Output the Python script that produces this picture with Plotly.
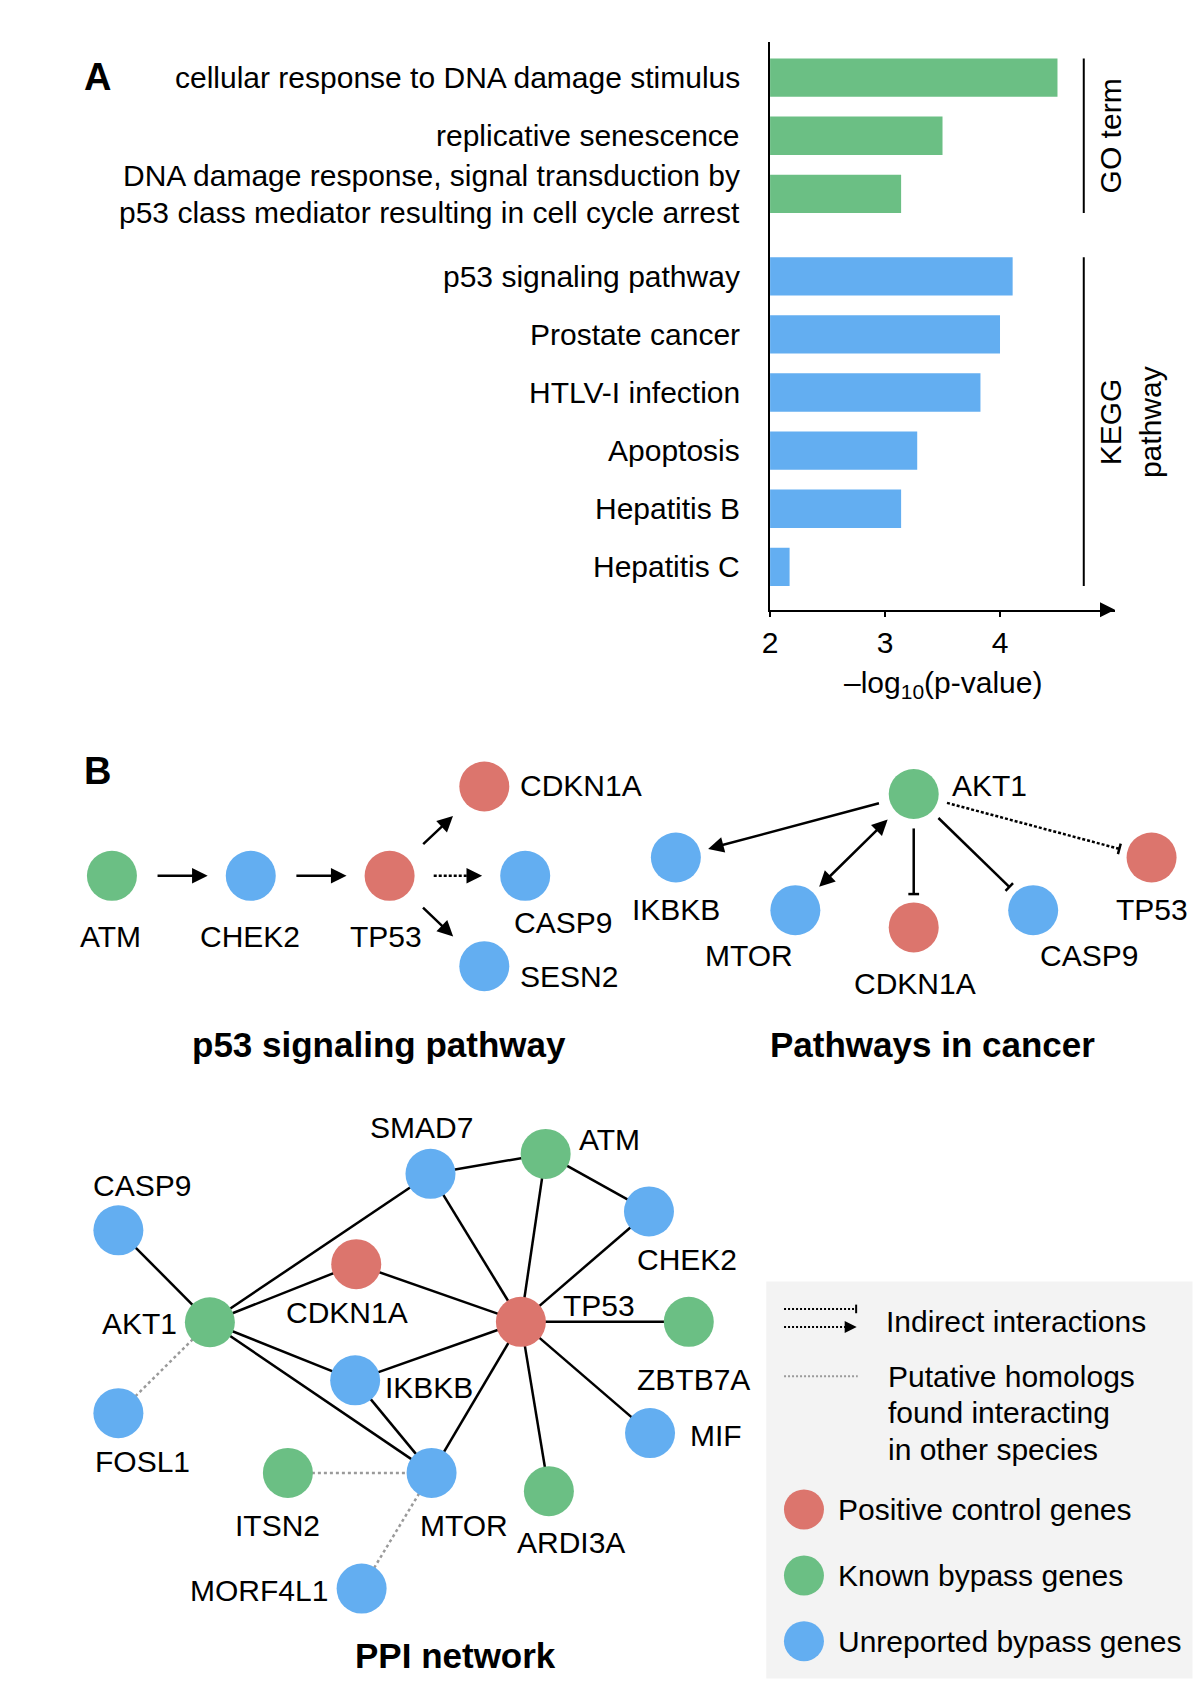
import plotly.graph_objects as go

# ---------------- Panel A data ----------------
GO_TERMS = [
    "cellular response to DNA damage stimulus",
    "replicative senescence",
    "DNA damage response, signal transduction by\np53 class mediator resulting in cell cycle arrest",
]
GO_LOGP = [4.50, 3.50, 3.14]
KEGG_TERMS = ["p53 signaling pathway", "Prostate cancer", "HTLV-I infection",
              "Apoptosis", "Hepatitis B", "Hepatitis C"]
KEGG_LOGP = [4.11, 4.00, 3.83, 3.28, 3.14, 2.17]
X_TICKS = [2, 3, 4]
X_MIN, X_MAX = 2, 5
GO_GROUP_LABEL = ["GO term"]
KEGG_GROUP_LABEL = ["KEGG", "pathway"]
X_TITLE = "–log<sub>10</sub>(p-value)"

# ---------------- Panel B data (diagram layout, canvas units) ----------------
P53_NODES = {
    "ATM": (104, 814, "known"), "CHEK2": (233, 814, "unrep"), "TP53": (362, 814, "pos"),
    "CDKN1A": (450, 731, "pos"), "CASP9": (488, 814, "unrep"), "SESN2": (450, 898, "unrep"),
}
P53_EDGES = [("ATM", "CHEK2", "activate"), ("CHEK2", "TP53", "activate"),
             ("TP53", "CDKN1A", "activate"), ("TP53", "CASP9", "indirect_activate"),
             ("TP53", "SESN2", "activate")]
P53_LABELS = [("ATM", 103, 870, "center"), ("CHEK2", 232, 870, "center"),
              ("TP53", 359, 870, "center"), ("CDKN1A", 484, 730, "left"),
              ("CASP9", 523, 857, "center"), ("SESN2", 484, 908, "left")]

CANCER_NODES = {
    "AKT1": (849, 738, "known"), "IKBKB": (628, 797, "unrep"), "MTOR": (739, 846, "unrep"),
    "CDKN1A": (849, 862, "pos"), "CASP9": (960, 846, "unrep"), "TP53": (1070, 797, "pos"),
}
CANCER_EDGES = [("AKT1", "IKBKB", "activate"), ("AKT1", "MTOR", "both"),
                ("AKT1", "CDKN1A", "inhibit"), ("AKT1", "CASP9", "inhibit"),
                ("AKT1", "TP53", "indirect_inhibit")]
CANCER_LABELS = [("AKT1", 886, 730, "left"), ("IKBKB", 628, 845, "center"),
                 ("MTOR", 696, 888, "center"), ("CDKN1A", 850, 914, "center"),
                 ("CASP9", 1012, 888, "center"), ("TP53", 1070, 845, "center")]

PPI_NODES = {
    "CASP9": (110, 1143.5, "unrep"), "AKT1": (195, 1229, "known"), "FOSL1": (110, 1313.5, "unrep"),
    "SMAD7": (400, 1091, "unrep"), "ATM": (507, 1072.5, "known"), "CHEK2": (603, 1126, "unrep"),
    "CDKN1A": (331, 1175, "pos"), "TP53": (484, 1228.6, "pos"), "ZBTB7A": (640, 1228.6, "known"),
    "IKBKB": (330, 1283, "unrep"), "MIF": (604, 1332, "unrep"), "ITSN2": (267.5, 1369, "known"),
    "MTOR": (401, 1369, "unrep"), "ARDI3A": (510, 1386, "known"), "MORF4L1": (336, 1476.5, "unrep"),
}
PPI_EDGES = [("CASP9", "AKT1"), ("AKT1", "SMAD7"), ("AKT1", "CDKN1A"), ("AKT1", "IKBKB"),
             ("AKT1", "MTOR"), ("SMAD7", "ATM"), ("SMAD7", "TP53"), ("ATM", "TP53"),
             ("ATM", "CHEK2"), ("CHEK2", "TP53"), ("CDKN1A", "TP53"), ("TP53", "ZBTB7A"),
             ("TP53", "IKBKB"), ("TP53", "MIF"), ("TP53", "MTOR"), ("TP53", "ARDI3A"),
             ("IKBKB", "MTOR")]
PPI_HOMOLOG_EDGES = [("AKT1", "FOSL1"), ("ITSN2", "MTOR"), ("MTOR", "MORF4L1")]
PPI_LABELS = [("CASP9", 132, 1102, "center"), ("AKT1", 163, 1230, "right"),
              ("FOSL1", 132, 1358, "center"), ("SMAD7", 392, 1048, "center"),
              ("ATM", 566, 1059, "center"), ("CHEK2", 638, 1171, "center"),
              ("CDKN1A", 322, 1220, "center"), ("TP53", 557, 1213, "center"),
              ("ZBTB7A", 644, 1282, "center"), ("IKBKB", 359, 1290, "left"),
              ("MIF", 665, 1334, "center"), ("ITSN2", 258, 1418, "center"),
              ("MTOR", 431, 1418, "center"), ("ARDI3A", 531, 1434, "center"),
              ("MORF4L1", 304, 1478, "right")]

LEGEND_GROUPS = [("pos", "Positive control genes"), ("known", "Known bypass genes"),
                 ("unrep", "Unreported bypass genes")]
LEGEND_LINES = [["Indirect interactions"],
                ["Putative homologs", "found interacting", "in other species"]]
TITLES = [("p53 signaling pathway", 352, 971), ("Pathways in cancer", 866, 971),
          ("PPI network", 423, 1539)]

# ---------------- style ----------------
W, H = 1200, 1687
CW, CH = 1115, 1568          # canvas units of the diagram layer
FONT = "Liberation Sans, Arial, Helvetica, sans-serif"
FS = 30
COL = {"pos": "#DC756D", "known": "#6BBF84", "unrep": "#63AEF1"}
DOT = "3px,2px"
GRAY = "#9A9A9A"
LW = 2.5
PAD = 3   # annotation box inner padding

fig = go.Figure()

# ================= Panel A: bar chart =================
GAP = 0.42
BAR_W = 0.66
go_pos = list(range(len(GO_TERMS)))
kegg_pos = [len(GO_TERMS) + GAP + j for j in range(len(KEGG_TERMS))]

for pos, vals, color in [(go_pos, GO_LOGP, COL["known"]), (kegg_pos, KEGG_LOGP, COL["unrep"])]:
    fig.add_trace(go.Bar(y=pos, x=[v - X_MIN for v in vals], base=X_MIN, orientation="h",
                         width=BAR_W, marker=dict(color=color, line=dict(width=0)),
                         xaxis="x", yaxis="y", showlegend=False, hoverinfo="skip"))

LINE_STEP = 0.63
for terms, pos in [(GO_TERMS, go_pos), (KEGG_TERMS, kegg_pos)]:
    for t, p in zip(terms, pos):
        lines = t.split("\n")
        n = len(lines)
        for k, ln in enumerate(lines):
            fig.add_annotation(x=(686 + PAD) / CW, xref="paper", y=p + (k - (n - 1) / 2) * LINE_STEP,
                               yref="y", text=ln, showarrow=False, xanchor="right", yanchor="middle",
                               font=dict(family=FONT, size=FS, color="black"))

# group brackets + labels
for pos, labels in [(go_pos, GO_GROUP_LABEL), (kegg_pos, KEGG_GROUP_LABEL)]:
    fig.add_shape(type="line", xref="paper", yref="y", x0=1007 / CW, x1=1007 / CW,
                  y0=pos[0] - BAR_W / 2, y1=pos[-1] + BAR_W / 2, line=dict(color="black", width=2))
    for k, lab in enumerate(labels):
        fig.add_annotation(x=(1032 + 37 * k) / CW, xref="paper", y=(pos[0] + pos[-1]) / 2, yref="y",
                           text=lab, textangle=-90, showarrow=False, xanchor="center", yanchor="middle",
                           font=dict(family=FONT, size=FS, color="black"))

# axis arrow
fig.add_annotation(x=1, xref="x domain", y=0, yref="y domain", ax=-16, ay=0, text="",
                   showarrow=True, arrowhead=2, arrowsize=1.5, arrowwidth=2, arrowcolor="black")
fig.add_annotation(x=0.5, xref="x domain", y=1 - 636.5 / CH, yref="paper", text=X_TITLE,
                   showarrow=False, xanchor="center", yanchor="middle",
                   font=dict(family=FONT, size=FS, color="black"))

# ================= Panel B: diagrams =================
def unit(a, b):
    dx, dy = b[0] - a[0], b[1] - a[1]
    L = (dx * dx + dy * dy) ** 0.5
    return dx / L, dy / L


def add_line(p0, p1, color="black", width=LW, dash="solid"):
    fig.add_trace(go.Scatter(x=[p0[0], p1[0]], y=[p0[1], p1[1]], mode="lines",
                             line=dict(color=color, width=width, dash=dash),
                             xaxis="x2", yaxis="y2", hoverinfo="skip", showlegend=False))


def add_head(tail, tip, both=False, width=LW, size=1.25):
    fig.add_annotation(x=tip[0], y=tip[1], ax=tail[0], ay=tail[1], xref="x2", yref="y2",
                       axref="x2", ayref="y2", text="", showarrow=True, arrowhead=2,
                       arrowsize=size, arrowwidth=width, arrowcolor="black",
                       arrowside="end+start" if both else "end",
                       startarrowhead=2, startarrowsize=size, standoff=0, startstandoff=0)


def add_tbar(tip, d, half=5, width=LW):
    nx, ny = -d[1], d[0]
    add_line((tip[0] + nx * half, tip[1] + ny * half), (tip[0] - nx * half, tip[1] - ny * half),
             width=width)


def draw_directed(nodes, edges, off0, off1):
    for a, b, kind in edges:
        pa, pb = nodes[a][:2], nodes[b][:2]
        d = unit(pa, pb)
        p0 = (pa[0] + d[0] * off0, pa[1] + d[1] * off0)
        p1 = (pb[0] - d[0] * off1, pb[1] - d[1] * off1)
        if kind == "activate":
            add_head(p0, p1)
        elif kind == "both":
            add_head(p0, p1, both=True)
        elif kind == "inhibit":
            add_line(p0, p1)
            add_tbar(p1, d)
        elif kind == "indirect_activate":
            q = (p1[0] - d[0] * 10, p1[1] - d[1] * 10)
            add_line(p0, q, dash=DOT)
            add_head(q, p1)
        elif kind == "indirect_inhibit":
            add_line(p0, p1, dash=DOT)
            add_tbar(p1, d)


def draw_nodes(nodes, size=50):
    names = list(nodes)
    fig.add_trace(go.Scatter(x=[nodes[n][0] for n in names], y=[nodes[n][1] for n in names],
                             mode="markers", marker=dict(size=size, color=[COL[nodes[n][2]] for n in names],
                                                         line=dict(width=0)),
                             xaxis="x2", yaxis="y2", hoverinfo="skip", showlegend=False))


def add_text(text, x, y, anchor="center", size=FS):
    if anchor == "left":
        x -= PAD
    elif anchor == "right":
        x += PAD
    fig.add_annotation(x=x, y=y, xref="x2", yref="y2", text=text, showarrow=False,
                       xanchor=anchor, yanchor="middle",
                       font=dict(family=FONT, size=size, color="black"))


draw_directed(P53_NODES, P53_EDGES, 41, 40)
draw_directed(CANCER_NODES, CANCER_EDGES, 32, 31)

for a, b in PPI_EDGES:
    add_line(PPI_NODES[a][:2], PPI_NODES[b][:2])
for a, b in PPI_HOMOLOG_EDGES:
    add_line(PPI_NODES[a][:2], PPI_NODES[b][:2], color=GRAY, width=2.5, dash="3px,3px")

for nodes in (P53_NODES, CANCER_NODES, PPI_NODES):
    draw_nodes(nodes)
for labels in (P53_LABELS, CANCER_LABELS, PPI_LABELS):
    for text, x, y, anchor in labels:
        add_text(text, x, y, anchor)

for text, x, y in TITLES:
    add_text("<b>%s</b>" % text, x, y, size=35)

for letter, x, y in [("A", 90.5, 72), ("B", 90.6, 717)]:
    add_text("<b>%s</b>" % letter, x, y, size=38)

# ---------------- legend box ----------------
fig.add_shape(type="rect", xref="x2", yref="y2", x0=712, x1=1108, y0=1191, y1=1560,
              fillcolor="#F3F3F3", line=dict(width=0), layer="below")
add_line((728.5, 1216.6), (795.5, 1216.6), width=2, dash="2px,2px")
add_tbar((795.5, 1216.6), (1, 0), half=4, width=2)
add_line((728.5, 1233.3), (786, 1233.3), width=2, dash="2px,2px")
add_head((786, 1233.3), (796, 1233.3), width=2, size=1.2)
add_line((728.5, 1279.2), (797, 1279.2), color=GRAY, width=2, dash="2px,2px")
for k, ln in enumerate(LEGEND_LINES[0]):
    add_text(ln, 824.5, 1228 + 34 * k, "left")
for k, ln in enumerate(LEGEND_LINES[1]):
    add_text(ln, 826, 1279.2 + 34 * k, "left")
leg_y = [1403, 1464.4, 1525.4]
fig.add_trace(go.Scatter(x=[747] * len(LEGEND_GROUPS), y=leg_y, mode="markers",
                         marker=dict(size=40, color=[COL[g] for g, _ in LEGEND_GROUPS], line=dict(width=0)),
                         xaxis="x2", yaxis="y2", hoverinfo="skip", showlegend=False))
for (g, lab), y in zip(LEGEND_GROUPS, leg_y):
    add_text(lab, 780, y, "left")

# ---------------- layout ----------------
fig.update_layout(
    width=W, height=H, margin=dict(l=0, r=0, t=0, b=0, pad=0, autoexpand=False),
    paper_bgcolor="white", plot_bgcolor="rgba(0,0,0,0)", showlegend=False,
    font=dict(family=FONT, size=FS, color="black"),
    xaxis=dict(domain=[715.5 / CW, 1036 / CW], range=[X_MIN, X_MAX], anchor="y",
               showline=True, linecolor="black", linewidth=2, ticks="outside", ticklen=5,
               tickwidth=2, tickcolor="black", tickvals=X_TICKS, ticktext=[str(t) for t in X_TICKS],
               tickfont=dict(family=FONT, size=FS, color="black"), showgrid=False, zeroline=False,
               fixedrange=True, ticklabelstandoff=0, automargin=False),
    yaxis=dict(domain=[1 - 566.8 / CH, 1 - 39.2 / CH], range=[9.16, -0.61], anchor="x",
               showline=True, linecolor="black", linewidth=2, showticklabels=False, ticks="",
               showgrid=False, zeroline=False, fixedrange=True, automargin=False),
    xaxis2=dict(domain=[0, 1], range=[0, CW], anchor="y2", visible=False, fixedrange=True,
                automargin=False),
    yaxis2=dict(domain=[0, 1], range=[CH, 0], anchor="x2", visible=False, fixedrange=True,
                automargin=False),
)

fig.write_html("out.html", config={"displayModeBar": False},
               post_script="document.body.style.margin='0px';document.body.style.overflow='hidden';")
